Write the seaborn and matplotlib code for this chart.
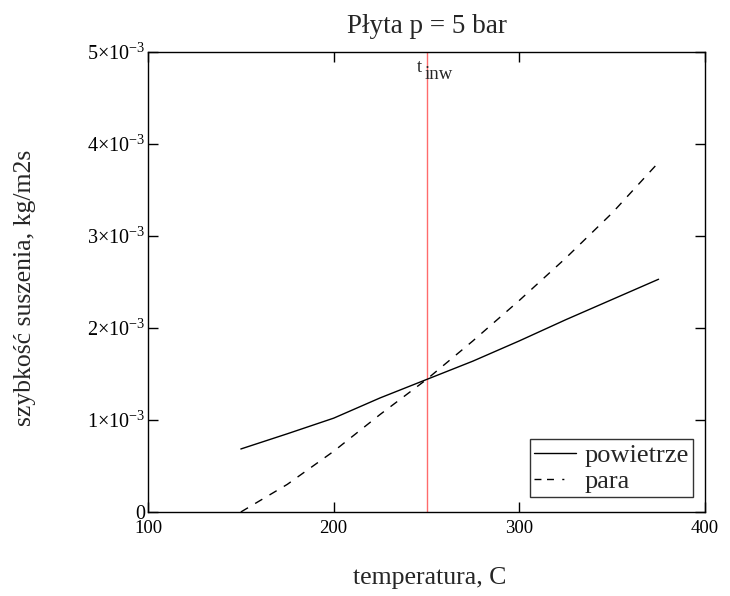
import matplotlib
matplotlib.use("Agg")
import matplotlib.pyplot as plt
from matplotlib.ticker import FuncFormatter, FixedLocator
import seaborn as sns
import pandas as pd

temperature = [150, 175, 200, 225, 250, 275, 300, 325, 350, 375]
powietrze = [0.685e-3, 0.85e-3, 1.02e-3, 1.24e-3, 1.44e-3, 1.64e-3, 1.86e-3, 2.09e-3, 2.31e-3, 2.53e-3]
para = [0.0, 0.30e-3, 0.66e-3, 1.06e-3, 1.44e-3, 1.86e-3, 2.30e-3, 2.76e-3, 3.25e-3, 3.80e-3]
t_inw = 250
x_ticks = [100, 200, 300, 400]
y_ticks = [0, 1e-3, 2e-3, 3e-3, 4e-3, 5e-3]

sns.set_theme(style="ticks")
plt.rcParams['font.family'] = ['Liberation Serif', 'DejaVu Serif']
plt.rcParams['mathtext.fontset'] = 'custom'
plt.rcParams['mathtext.rm'] = 'Liberation Serif'
plt.rcParams['mathtext.it'] = 'Liberation Serif:italic'
plt.rcParams['mathtext.bf'] = 'Liberation Serif:bold'

df = pd.DataFrame({
    "temperature": temperature * 2,
    "value": powietrze + para,
    "series": ["powietrze"] * len(temperature) + ["para"] * len(temperature),
})

fig = plt.figure(figsize=(7.30, 5.96), dpi=100)
ax = fig.add_axes([148 / 730, 1 - 512 / 596, (705 - 148) / 730, (512 - 52) / 596])

sns.lineplot(data=df, x="temperature", y="value", style="series",
             dashes={"powietrze": "", "para": (6, 6)},
             color="black", linewidth=1.0, ax=ax)

ax.axvline(t_inw, color="#ff6b6b", linewidth=1.0, zorder=0)
ax.text(244.9, 4.786e-3, "t", ha="left", va="baseline", fontsize=13.5)
ax.text(249.2, 4.707e-3, "inw", ha="left", va="baseline", fontsize=13.5)

ax.set_xlim(100, 400)
ax.set_ylim(0, 5e-3)
ax.xaxis.set_major_locator(FixedLocator(x_ticks))
ax.yaxis.set_major_locator(FixedLocator(y_ticks))

def yfmt(v, pos):
    k = round(v * 1e3)
    if k == 0:
        return "0"
    return r"$%d{\times}10^{-3}$" % k

ax.yaxis.set_major_formatter(FuncFormatter(yfmt))
ax.tick_params(direction="in", length=7, width=1, top=True, right=True,
               labelsize=13.5, colors="black")
ax.tick_params(axis="x", pad=6)
ax.tick_params(axis="y", pad=2, labelsize=14.5)
for s in ax.spines.values():
    s.set_linewidth(1.0)
    s.set_color("black")

ax.set_title("Płyta p = 5 bar", fontsize=19.5, pad=14)
ax.set_xlabel("temperatura, C", fontsize=18.5)
ax.set_ylabel("szybkość suszenia, kg/m2s", fontsize=18.5)
ax.xaxis.set_label_coords(0.506, -0.1435)
ax.xaxis.label.set_va("center")
ax.yaxis.set_label_coords(-0.221, 0.487)
ax.yaxis.label.set_va("center")

leg = ax.legend(loc="lower right", bbox_to_anchor=(0.978, 0.033), borderaxespad=0,
                fontsize=19, frameon=True, fancybox=False, edgecolor="black",
                handlelength=1.6, borderpad=0.15, labelspacing=0.1, handletextpad=0.3)
leg.get_frame().set_linewidth(1.0)
for h in leg.get_lines():
    h.set_color("black")
leg.get_lines()[1].set_dashes([5, 4, 5, 6, 1.5, 100])

fig.savefig("out.png", dpi=100)
